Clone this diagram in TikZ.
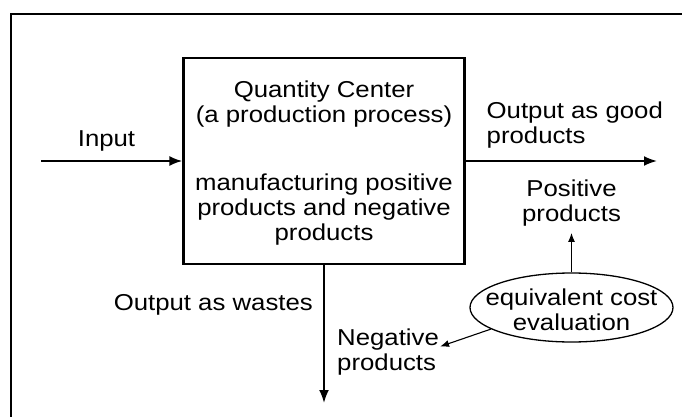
\documentclass[tikz,border=0pt]{standalone}
\usepackage{fontspec}
\setmainfont{Liberation Sans}[FakeStretch=1.12]
\usetikzlibrary{arrows.meta,shapes.geometric}
\tikzset{
  qbox/.style={draw,line width=2.4pt,minimum width=281pt,minimum height=206pt,inner sep=0pt},
  lbl/.style={align=center,inner sep=0pt,anchor=base}, % base = last line
  evalnode/.style={draw,ellipse,line width=1.3pt,minimum width=203pt,minimum height=69pt,inner sep=0pt},
  flow/.style={line width=1.9pt,-{Latex[length=13pt,width=10pt]}},
  hint/.style={line width=1.1pt,-{Latex[length=9pt,width=7pt]}},
}

\begin{document}
\begin{tikzpicture}[x=1pt,y=-1pt,font=\fontsize{23}{25}\selectfont]
  \useasboundingbox (0,0) rectangle (682,417);
  \draw[line width=2pt] (10.5,417) -- (10.5,14) -- (682,14); % open frame
  % the process box
  \node[qbox] (qc) at (324,161) {};
  \node[lbl] (qcname) at (324,123) {Quantity Center\\(a production process)};
  \node[lbl] (qcbody) at (324,240) {manufacturing positive\\products and negative\\products};
  % flows in and out
  \coordinate (inp) at (41,161);
  \coordinate (goodend) at (657,161);
  \coordinate (wasteend) at (324,403);
  \node[lbl] (input) at (106.5,146.5) {Input};
  \node[lbl,anchor=base west,align=left] (good) at (486.5,143) {Output as good\\products};
  \node[lbl,anchor=base east] (waste) at (313,310) {Output as wastes};
  \draw[flow] (inp) -- (qc.west);
  \draw[flow] (qc.east) -- (goodend);
  \draw[flow] (qc.south) -- (wasteend);
  % evaluation
  \node[evalnode] (ecost) at (571.5,307.5) {};
  \node[lbl] (ecosttxt) at (571.5,330) {equivalent cost\\evaluation};
  \node[lbl] (pos) at (571.5,221.5) {Positive\\products};
  \node[lbl,anchor=base west,align=left] (neg) at (337,370) {Negative\\products};
  \draw[hint,shorten >=6.5pt] (ecost.north) -- (pos.south);
  \draw[hint] (ecost.195) -- ([shift={(1,-5)}]neg.east);
\end{tikzpicture}
\end{document}
